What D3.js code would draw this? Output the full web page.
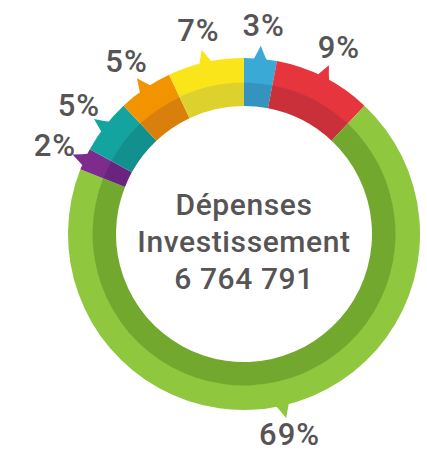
<!DOCTYPE html>
<html>
<head>
<meta charset="utf-8">
<script src="https://cdn.jsdelivr.net/npm/d3@7"></script>
<style>
  body { margin: 0; background: #fff; }
  svg { display: block; }
  text { font-family: Roboto, "DejaVu Sans", sans-serif; fill: #575455; }
</style>
</head>
<body>
<svg width="427" height="452"></svg>
<script>
// segments, clockwise from 12 o'clock
const labels = ['3%', '9%', '69%', '2%', '5%', '5%', '7%'];
const values = [3, 9, 69, 2, 5, 5, 7];
const lightColors = ['#3ba9d5', '#e6353c', '#8fc73e', '#7d2c8e', '#14a4a0', '#f29400', '#f9e51a'];
const darkColors  = ['#3494bf', '#c9303a', '#72a82e', '#6b2380', '#11908e', '#d97f0c', '#ddd22d'];
const centerLines = ['Dépenses', 'Investissement', '6 764 791'];

const svg = d3.select('svg');
const height = +svg.attr('height');
const cx = 244, cy = 234;
const outerR = 176, midR = 151, innerR = 128;

const data = values.map((v, i) => ({ label: labels[i], value: v, light: lightColors[i], dark: darkColors[i] }));

const pie = d3.pie().value(d => d.value).sort(null);
const arcs = pie(data);

const g = svg.append('g').attr('transform', 'translate(' + cx + ',' + cy + ')');

const outerArc = d3.arc().innerRadius(midR).outerRadius(outerR);
const innerArc = d3.arc().innerRadius(innerR).outerRadius(midR + 0.5);

// little pointer tails, drawn before the ring so the base tucks under it
const mid = d => (d.startAngle + d.endAngle) / 2;
g.selectAll('path.tail').data(arcs)
  .enter().append('path')
    .attr('class', 'tail')
    .attr('fill', d => d.data.light)
    .attr('transform', d => 'rotate(' + (mid(d) * 180 / Math.PI) + ')')
    .attr('d', 'M-8,' + (-outerR + 4) + ' L-1,' + (-outerR - 13) + ' L3,' + (-outerR - 5) + ' L8,' + (-outerR + 4) + 'Z');

g.selectAll('path.outer').data(arcs)
  .enter().append('path')
    .attr('class', 'outer')
    .attr('d', outerArc)
    .attr('fill', d => d.data.light);

g.selectAll('path.inner').data(arcs)
  .enter().append('path')
    .attr('class', 'inner')
    .attr('d', innerArc)
    .attr('fill', d => d.data.dark);

// percentage labels (kept inside the bottom edge)
const labelR = 209;
g.selectAll('text.pct').data(arcs)
  .enter().append('text')
    .attr('class', 'pct')
    .attr('x', d => Math.sin(mid(d)) * labelR)
    .attr('y', d => Math.min(-Math.cos(mid(d)) * labelR, height - cy - 18))
    .attr('dy', '0.34em')
    .attr('text-anchor', 'middle')
    .style('font-size', '31px')
    .style('font-weight', 500)
    .style('letter-spacing', '1px')
    .text(d => d.data.label);

// centre text
g.selectAll('text.center').data(centerLines)
  .enter().append('text')
    .attr('class', 'center')
    .attr('x', 0)
    .attr('y', (d, i) => -19 + i * 37)
    .attr('text-anchor', 'middle')
    .style('font-size', '30px')
    .style('font-weight', 500)
    .style('letter-spacing', '0.6px')
    .text(d => d);
</script>
</body>
</html>
